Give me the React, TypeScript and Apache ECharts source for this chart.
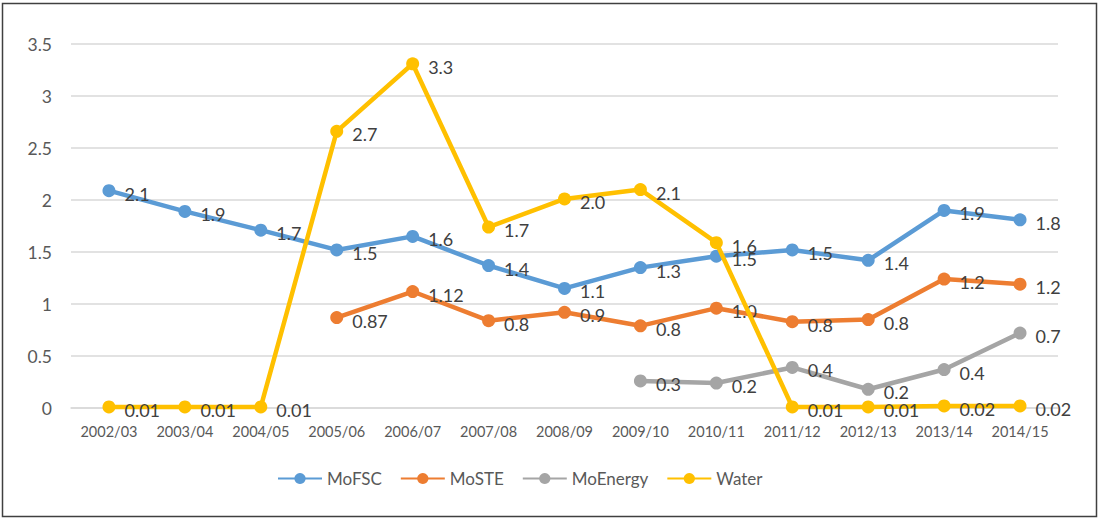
import React, { useEffect, useRef } from "react";
import * as echarts from "echarts";

const categories = ["2002/03", "2003/04", "2004/05", "2005/06", "2006/07", "2007/08", "2008/09", "2009/10", "2010/11", "2011/12", "2012/13", "2013/14", "2014/15"];

const moFSC = [2.09, 1.89, 1.71, 1.52, 1.65, 1.37, 1.15, 1.35, 1.46, 1.52, 1.42, 1.9, 1.81];
const moFSCLabels = ["2.1", "1.9", "1.7", "1.5", "1.6", "1.4", "1.1", "1.3", "1.5", "1.5", "1.4", "1.9", "1.8"];

const moSTE = [null, null, null, 0.87, 1.12, 0.84, 0.92, 0.79, 0.96, 0.83, 0.85, 1.24, 1.19];
const moSTELabels = ["", "", "", "0.87", "1.12", "0.8", "0.9", "0.8", "1.0", "0.8", "0.8", "1.2", "1.2"];

const moEnergy = [null, null, null, null, null, null, null, 0.26, 0.24, 0.39, 0.18, 0.37, 0.72];
const moEnergyLabels = ["", "", "", "", "", "", "", "0.3", "0.2", "0.4", "0.2", "0.4", "0.7"];

const water = [0.01, 0.01, 0.01, 2.66, 3.31, 1.74, 2.01, 2.1, 1.59, 0.01, 0.01, 0.02, 0.02];
const waterLabels = ["0.01", "0.01", "0.01", "2.7", "3.3", "1.7", "2.0", "2.1", "1.6", "0.01", "0.01", "0.02", "0.02"];

const seriesNames = ["MoFSC", "MoSTE", "MoEnergy", "Water"];
const colors = ["#5B9BD5", "#ED7D31", "#A5A5A5", "#FFC000"];

const FONT = "Lato, 'Noto Sans', sans-serif";

export default function App() {
  const ref = useRef<HTMLDivElement>(null);
  useEffect(() => {
    if (!ref.current) return;
    const chart = echarts.init(ref.current, undefined, { renderer: "svg" });
    const all = [
      [moFSC, moFSCLabels],
      [moSTE, moSTELabels],
      [moEnergy, moEnergyLabels],
      [water, waterLabels],
    ];
    chart.setOption({
      animation: false,
      backgroundColor: "#ffffff",
      textStyle: { fontFamily: FONT },
      color: colors,
      graphic: [
        {
          type: "rect",
          shape: { x: 2.5, y: 3.5, width: 1094, height: 513 },
          style: { fill: "none", stroke: "#404040", lineWidth: 1.5 },
          silent: true,
        },
      ],
      grid: { left: 71, right: 41, top: 44, bottom: 110, containLabel: false },
      legend: {
        data: seriesNames,
        left: 272,
        top: 465,
        itemWidth: 44,
        itemHeight: 14,
        itemGap: 18,
        textStyle: { fontFamily: FONT, fontSize: 17, color: "#595959" },
      },
      xAxis: {
        type: "category",
        data: categories,
        boundaryGap: true,
        axisLine: { show: true, lineStyle: { color: "#D9D9D9", width: 1.5 } },
        axisTick: { show: false },
        axisLabel: { fontFamily: FONT, fontSize: 14.5, color: "#595959", margin: 16, interval: 0 },
      },
      yAxis: {
        type: "value",
        min: 0,
        max: 3.5,
        interval: 0.5,
        axisLine: { show: false },
        axisTick: { show: false },
        splitLine: { lineStyle: { color: "#D9D9D9", width: 1.5 } },
        axisLabel: { fontFamily: FONT, fontSize: 17.5, color: "#595959", margin: 19 },
      },
      series: all.map(([vals, labels], i) => ({
        name: seriesNames[i],
        type: "line",
        data: vals as (number | null)[],
        connectNulls: false,
        symbol: "circle",
        symbolSize: 13,
        lineStyle: { width: 4.5, color: colors[i] },
        itemStyle: { color: colors[i] },
        z: i === 3 ? 3 : 2,
        label: {
          show: true,
          position: "right",
          distance: 9,
          offset: [0, 3],
          fontFamily: FONT,
          fontSize: 18,
          color: "#404040",
          formatter: (p: any) => (labels as string[])[p.dataIndex],
        },
      })),
    });
    return () => chart.dispose();
  }, []);
  return (
    <div
      ref={ref}
      style={{ position: "fixed", left: 0, top: 0, width: 1099, height: 518 }}
    />
  );
}
